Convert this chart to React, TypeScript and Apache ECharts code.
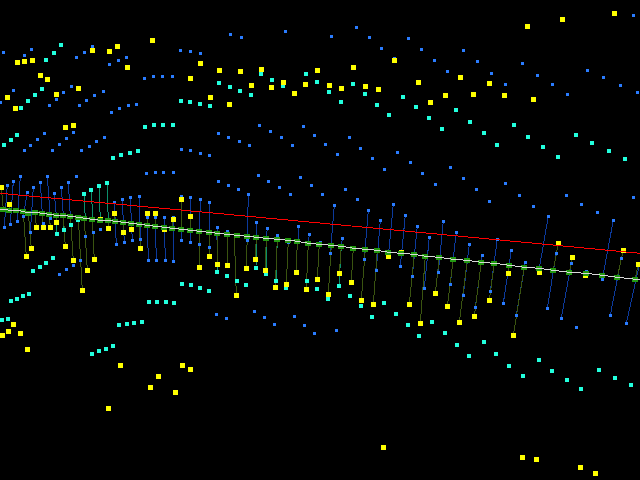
import React, { useEffect, useRef } from "react";
import * as echarts from "echarts";

type P = number[];

const bluePoints: P[] = [
  [3.3,52.3],[24.3,55.3],[31.3,49.3],[13.3,90.3],[0.7,102.3],[49.3,105.3],[56.3,99.3],[63.3,92.3],[71.3,86.3],[79.3,105.3],[86.3,100.3],[94.3,95.3],[103.3,91.3],[111.3,112.3],[119.3,108.3],[128.3,105.3],[136.3,104.3],[76.3,57.3],[84.3,52.3],[92.3,46.7],[109.3,64.3],[118.3,60.3],[126.3,57.3],[144.3,78.3],[153.3,76.3],[162.3,76.3],[172.3,76.3],[180.3,50.3],[190.3,51.3],[200.3,53.3],
  [44.3,133.3],[37.3,139.3],[30.3,145.3],[24.3,150.3],[73.3,132.3],[66.3,138.3],[59.3,144.3],[52.3,150.3],[104.3,137.3],[96.3,141.3],[89.3,146.3],[81.3,150.3],[181.3,149.3],[190.3,150.3],[200.3,153.3],[209.3,155.3],
  [230.3,34.3],[241.3,37.3],[285.3,31.3],[331.3,36.3],[356.3,27.3],[369.3,37.3],[381.3,48.3],[408.3,38.3],[421.3,49.3],[394.3,58],[218.3,133.3],[228.3,137.3],[239.3,141.3],[249.3,145.3],[259.3,125.3],[270.3,131.3],[281.3,137.3],[292.3,145.3],[303.3,126.3],[314.3,135.3],[325.3,144.3],[337.3,154.3],[349.3,137.3],[360.3,148.3],[372.3,158.3],[397.3,152.3],
  [633.3,15.3],[463.3,50.3],[434.3,60.3],[477.3,61.3],[447.3,71.3],[491.3,73.3],[505.3,84.3],[522.3,63.3],[537.3,75.3],[552.3,84.3],[567.3,94.3],[587.3,70.3],[603.3,77.3],[620.3,85.3],[637.3,92.3],
  [20.3,176.3],[13.3,181.3],[7.3,185.3],[33.3,187.3],[40.3,182.3],[27.3,192.3],[47.3,176.3],[76.3,176.3],[61.3,187.3],[68.3,182.3],[54.3,193.3],[146.3,173.3],[155.3,172.3],[163.3,172.3],[173.3,172.3],
  [4.3,227.3],[10.3,224.3],[17.3,221.3],[23.3,216.3],[30.3,232.3],[43.3,223.3],[50.3,218.3],[59.3,274.3],[66.3,269.3],[73.3,265.3],[80.3,260.3],[85.3,236.3],[93.3,232.3],[100.3,229.3],[116.3,244.3],[124.3,242.3],[132.3,240.3],[140.3,239.3],[148.3,260.3],[156.3,260.3],[165.3,260.3],[173.3,261.3],[181.3,240.3],[190.3,242.3],[199.3,244.3],[209.3,247.3],
  [114.3,202.3],[122.3,199.3],[130.3,197.3],[139.3,196.3],[147.3,217.3],[155.3,217.3],[164.3,217.3],[173.3,217.3],[181.3,196.3],[190.3,197.3],[200.3,199.3],[209.3,202.3],
  [218.3,181.3],[228.3,185.3],[238.3,189.3],[248.3,194.3],[258.3,175.3],[268.3,181.3],[279.3,187.3],[290.3,194.3],[300.3,177.3],[311.3,185.3],[322.3,194.3],[345.3,189.3],[357.3,199.3],[384.3,169.3],[410.3,162.3],[422.3,173.3],
  [247.3,240.3],[256.3,222.3],[267.3,228.3],[217.3,227.3],[227.3,231.3],[277.3,235.3],[288.3,242.3],[298.3,226.3],[309.3,234.3],[320.3,242.3],[334.3,205.3],[330.3,253.3],[342.3,238.3],[368.3,210.3],[364.3,259.3],[380.3,220.3],[376.3,270.3],[393.3,204.3],[405.3,215.3],[400.3,266.3],[417.3,226.3],[412.3,276.3],[424.3,288.3],
  [216.3,314.3],[226.3,318.3],[254.3,311.3],[264.3,317.3],[294.3,316.3],[274.3,324.3],[304.3,325.3],[314.3,333.3],[336.3,330.3],
  [450.3,167.3],[463.3,178.3],[435.3,184.3],[476.3,189.3],[489.3,201.3],[505.3,183.3],[519.3,195.3],[533.3,206.3],[566.3,195.3],[581.3,204.3],[597.3,212.3],[633.3,197.3],
  [429.3,237.3],[443.3,221.3],[438.3,272.3],[456.3,232.3],[450.3,284.3],[469.3,244.3],[463.3,295.3],[482.3,255.3],[475.3,307.3],[497.3,239.3],[490.3,291.3],[511.3,250.3],[503.3,303.3],[525.3,262.3],[516.3,315.3],[548.3,216.3],[556.3,253.3],[547.3,308.3],[571.3,263.3],[561.3,318.3],[586.3,271.3],[613.3,220.3],[602.3,279.3],[621.3,258.3],[610.3,315.3],[576.3,327.3],[626.3,323.3],
];

const cyanPoints: P[] = [
  [61,45],[54,53],[46,60],[42,89],[35,95],[28,101],[21,108],[17,135],[11,140],[4,145],[145,127],[154,125],[163,125],[173,125],[113,158],[121,155],[130,153],[138,151],[181,101],[190,102],[200,104],[210,106],
  [261,74],[272,80],[283,86],[219,83],[230,87],[240,91],[251,95],[306,74],[317,82],[329,92],[341,102],[353,84],[365,94],[377,105],[389,115],[403,97],[416,107],
  [456,110],[429,118],[442,129],[470,122],[484,133],[497,145],[514,125],[528,137],[543,147],[558,157],[576,135],[592,143],[609,151],[625,159],
  [57,234],[64,230],[71,225],[78,220],[84,194],[91,190],[99,186],[107,183],[33,271],[40,267],[46,263],[53,258],[11,301],[17,299],[23,296],[29,294],[2,320],[8,319],[149,302],[157,302],[166,302],[174,303],[182,284],[191,285],[200,288],[209,291],
  [217,272],[227,276],[237,281],[246,285],[256,268],[266,274],[276,281],[286,288],[307,281],[317,289],[328,299],[339,286],[350,296],[361,306],[372,317],[384,303],[396,314],[408,325],[419,336],
  [432,322],[445,333],[457,345],[469,356],[484,342],[496,354],[509,366],[523,376],[539,360],[552,371],[567,380],[581,389],[599,370],[615,378],[631,385],
  [119,325],[127,324],[134,323],[142,322],[92,354],[99,351],[106,349],[113,346],
];

const yellowPoints: P[] = [
  [17.3,62.3],[24.3,61.3],[32.3,60.3],[40.3,75.3],[47.3,79.3],[7.3,97.3],[15.3,108.3],[56.3,94.3],[78.3,88.3],[92.3,50.3],[109.3,51.3],[117.3,46.3],[127.3,67.3],[152.3,40.3],[200.3,63.3],[190.3,78.3],[210.3,97.3],[65.3,127.3],[73.3,125.3],
  [219.3,70.3],[240.3,71.3],[261.3,69.3],[317.3,70.3],[353.3,67.3],[394.3,60.3],[418.3,82.3],[251.3,85.3],[271.3,87.3],[283.3,82.3],[305.3,84.3],[294.3,93.3],[329.3,85.3],[341.3,88.3],[365.3,86.3],[378.3,89.3],[229.3,104.3],
  [614.3,13.3],[562.3,19.3],[527.3,26.3],[460.3,77.3],[489.3,83.3],[445.3,95.3],[473.3,94.3],[504.3,95.3],[430.3,102.3],[533.3,99.3],
  [1.3,187.3],[9.3,204.3],[26.3,256.3],[31.3,248.3],[36.3,227.3],[43.3,227.3],[50.3,227.3],[56.3,222.3],[65.3,246.3],[73.3,260.3],[82.3,290.3],[87.3,270.3],[94.3,259.3],[108.3,228.3],[100.3,219],[114.3,213.3],[123.3,232.3],[131.3,229.3],[140.3,248.3],[147.3,213.3],[155.3,213.3],[164.3,229.3],[173.3,219.3],[181.3,199.3],[190.3,216.3],[199.3,267.3],[209.3,256.3],
  [217.3,264.3],[227.3,265.3],[236.3,295.3],[246.3,268.3],[255.3,259.3],[265.3,270.3],[275.3,287.3],[286.3,284.3],[296.3,272.3],[306.3,289.3],[317.3,279.3],[328.3,294.3],[339.3,273.3],[351.3,282.3],[361.3,300.3],[373.3,304.3],[388.3,256.7],[401.3,252.7],[409.3,304.3],[420.3,323.3],[383.3,447.3],
  [435.3,293.3],[447.3,306.3],[474.3,316.3],[489.3,300.3],[508.3,273.3],[539.3,272.3],[558.3,243.3],[572.3,257.3],[585.3,275.3],[623.3,250],[638,264.3],[459.3,322.3],[513.3,335.3],[522.3,457.3],[536.3,459.3],[580.3,467.3],[595.3,473.3],
  [13.3,324.3],[8.3,331.3],[20.3,333.3],[2.3,335.3],[27.3,349.3],[120.3,365.3],[182.3,365.3],[190.3,369.3],[158.3,376.3],[150.3,387.3],[175.3,392.3],[108.3,408.3],
];

const trendPoints: P[] = [
  [0,209],[3.3,209.3],[9.3,210.3],[16.3,210.3],[23.3,211.3],[28.3,213],[35.3,212.3],[42.3,213.3],[49.3,214.3],[56.3,215.3],[63.3,215.3],[70.3,216.3],[78.3,217.3],[84.3,218.3],[92.3,219.3],[100.3,220.3],[108.3,220.3],[115.3,221.3],[123.3,222.3],[131.3,223.3],[139.3,224.3],[147.3,225.3],[155.3,226.3],[164.3,227.3],[172.3,228.3],[181.3,229.3],[190.3,230.3],[199.3,231.3],[209.3,232.3],
  [217.3,233.3],[227.3,234.3],[237.3,235.3],[247.3,236.3],[256.3,237.3],[266.3,238.3],[277.3,239.3],[288.3,240.3],[297.3,241.3],[308.3,243.3],[319.3,244.3],[331.3,245.3],[341.3,246.3],[353.3,248.3],[365.3,249.3],[377.3,250.3],[388.3,252.3],[401.3,253.3],[414.3,254.3],[425.3,256.3],
  [439.3,257.3],[453.3,259.3],[467.3,260.3],[481.3,262.3],[494.3,263.3],[509.3,265.3],[524.3,267.3],[539.3,268.3],[553.3,270.3],[569.3,272.3],[586.3,273.3],[602.3,275.3],[617.3,277.3],[635.3,279.3],[640,280],
];

const redPoints: P[] = [[0,193.3],[213,213],[426,233],[640,253.3]];

const blueLinks: P[] = [
  [7.3,185.3,4.3,227.3],[13.3,181.3,10.3,224.3],[20.3,176.3,17.3,221.3],[27.3,192.3,23.3,216.3],[33.3,187.3,30.3,232.3],[40.3,182.3,42.3,213.3],[47.3,176.3,50.3,218.3],[54.3,193.3,56.3,215.3],[61.3,187.3,63.3,215.3],[68.3,182.3,70.3,216.3],
  [114.3,202.3,116.3,244.3],[122.3,199.3,124.3,242.3],[130.3,197.3,132.3,240.3],[139.3,196.3,140.3,239.3],[147.3,217.3,148.3,260.3],[155.3,217.3,156.3,260.3],[164.3,217.3,165.3,260.3],[173.3,217.3,173.3,261.3],[181.3,196.3,181.3,240.3],[190.3,197.3,190.3,242.3],[200.3,199.3,199.3,244.3],[209.3,202.3,209.3,247.3],
  [217.3,227.3,216.5,240],[248.3,194.3,247.3,240.3],[256.3,222.3,256.3,237.3],[267.3,228.3,266.3,238.3],[277.3,235.3,277.3,239.3],[298.3,226.3,298.3,241.3],[309.3,234.3,308.3,243.3],[334.3,205.3,330.3,253.3],[342.3,238.3,341.3,246.3],[368.3,210.3,364.3,259.3],[380.3,220.3,376.3,270.3],[393.3,204.3,388.3,256.7],[405.3,215.3,400.3,266.3],[417.3,226.3,412.3,276.3],[429.3,237.3,424.3,288.3],
  [443.3,221.3,438.3,272.3],[456.3,232.3,450.3,284.3],[469.3,244.3,463.3,295.3],[482.3,255.3,475.3,307.3],[497.3,239.3,490.3,291.3],[511.3,250.3,503.3,303.3],[525.3,262.3,516.3,315.3],[548.3,216.3,539.3,268.3],[556.3,253.3,547.3,308.3],[571.3,263.3,561.3,318.3],[613.3,220.3,602.3,279.3],[621.3,258.3,610.3,315.3],[640,262,626.3,323.3],
];

const tealLinks: P[] = [
  [84,194,85.3,218.3],[91,190,93,217],[99,186,100.3,219],[107,183,108.3,220],[57,234,56.3,215.3],[64,230,63.3,215.3],[71,225,70.3,216.3],[217,272,217,233.3],[256,268,256.3,237.3],[266,274,266.3,238.3],[276,281,277.3,239.3],[339,286,341.3,246.3],
];

const oliveLinks: P[] = [
  [1.3,187.3,3.3,209.3],[9.3,204.3,9.3,210.3],[26.3,256.3,23.3,211.3],[31.3,248.3,28.3,213],[36.3,227.3,35.3,212.3],[43.3,227.3,42.3,213.3],[50.3,227.3,49.3,214.3],[56.3,222.3,56.3,215.3],[65.3,246.3,63.3,215.3],[73.3,260.3,70.3,216.3],[82.3,290.3,78.3,217.3],[87.3,270.3,84.3,218.3],[94.3,259.3,92.3,219.3],[108.3,228.3,108.3,220.3],[114.3,213.3,115.3,221.3],[123.3,232.3,123.3,222.3],[131.3,229.3,131.3,223.3],[140.3,248.3,139.3,224.3],[147.3,213.3,147.3,225.3],[155.3,213.3,155.3,226.3],[164.3,229.3,164.3,227.3],[173.3,219.3,172.3,228.3],[181.3,199.3,181.3,229.3],[190.3,216.3,190.3,230.3],[199.3,267.3,199.3,231.3],[209.3,256.3,209.3,232.3],
  [217.3,264.3,217.3,233.3],[227.3,265.3,227.3,234.3],[236.3,295.3,234.3,235],[246.3,268.3,247.3,236.3],[255.3,259.3,256.3,237.3],[265.3,270.3,266.3,238.3],[275.3,287.3,277.3,239.3],[286.3,284.3,288.3,240.3],[296.3,272.3,297.3,241.3],[306.3,289.3,308.3,243.3],[317.3,279.3,319.3,244.3],[328.3,294.3,331.3,245.3],[339.3,273.3,341.3,246.3],[351.3,282.3,353.3,248.3],[361.3,300.3,365.3,249.3],[373.3,304.3,377.3,250.3],[409.3,304.3,414.3,254.3],[420.3,323.3,425.3,256.3],
  [435.3,293.3,439.3,257.3],[447.3,306.3,453.3,259.3],[459.3,322.3,467.3,260.3],[474.3,316.3,481.3,262.3],[489.3,300.3,494.3,263.3],[508.3,273.3,509.3,265.3],[513.3,335.3,524.3,267.3],[558.3,243.3,553.3,270.3],[572.3,257.3,569.3,272.3],[623.3,250,617.3,277.3],[638,264.3,635.3,279.3],
];

const toLines = (links: P[]) =>
  links.map((l) => ({ coords: [[l[0], l[1]], [l[2], l[3]]] }));

const linkSeries = (links: P[], color: string, z: number) => ({
  type: "lines",
  coordinateSystem: "cartesian2d",
  data: toLines(links),
  lineStyle: { color, width: 1, opacity: 1 },
  silent: true,
  z,
});

const pointSeries = (data: P[], color: string, size: number | number[], z: number) => ({
  type: "scatter",
  data,
  symbol: "rect",
  symbolSize: size,
  itemStyle: { color, opacity: 1 },
  silent: true,
  z,
});

const lineSeries = (data: P[], color: string, z: number) => ({
  type: "line",
  data,
  showSymbol: false,
  symbol: "none",
  lineStyle: { color, width: 1 },
  silent: true,
  z,
});

export default function App() {
  const ref = useRef<HTMLDivElement>(null);
  useEffect(() => {
    const chart = echarts.init(ref.current!, undefined, { renderer: "svg", width: 640, height: 480 });
    chart.setOption({
      animation: false,
      backgroundColor: "#000000",
      grid: { left: 0, right: 0, top: 0, bottom: 0 },
      xAxis: { type: "value", min: 0, max: 640, show: false },
      yAxis: { type: "value", min: 0, max: 480, inverse: true, show: false },
      series: [
        linkSeries(blueLinks, "#0c3a9c", 1),
        linkSeries(tealLinks, "#0c8f6c", 2),
        linkSeries(oliveLinks, "#3a5410", 3),
        pointSeries(bluePoints, "#2a7cff", 3, 4),
        pointSeries(cyanPoints, "#22ffdd", 4, 5),
        pointSeries(yellowPoints, "#ffff00", 5, 6),
        pointSeries(trendPoints.slice(1, -1), "#229911", [6, 5], 7),
        lineSeries(trendPoints, "#d8d8d8", 8),
        lineSeries(redPoints, "#ff0000", 9),
      ],
    });
    return () => chart.dispose();
  }, []);
  return (
    <>
      <style>{"html,body{margin:0;background:#000}#chart path{shape-rendering:crispEdges}"}</style>
      <div
        id="chart"
        ref={ref}
        style={{ position: "fixed", left: 0, top: 0, width: 640, height: 480, background: "#000" }}
      />
    </>
  );
}
